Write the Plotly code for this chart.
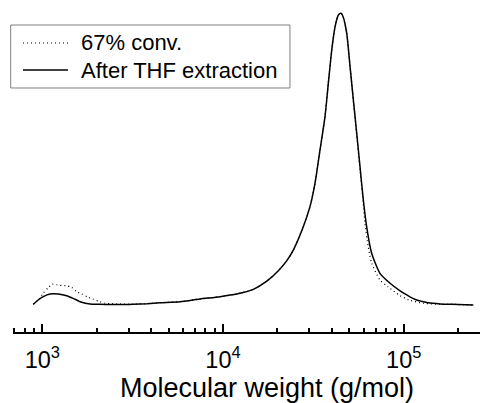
import plotly.graph_objects as go

# Solid curve: After THF extraction (molecular weight g/mol, normalized intensity)
mw_thf = [891, 950, 1013, 1103, 1226, 1365, 1517, 1652, 1836, 2085, 2600, 3178, 3800,
          4478, 5777, 7459, 9620, 11900, 14720, 17470, 20240, 22500, 24490, 27810,
          30290, 32280, 34420, 36680, 38270, 39970, 41700, 43490, 44990, 46200,
          48380, 50470, 52640, 54940, 57300, 59770, 62360, 66470, 73900, 84000,
          95000, 103900, 115000, 128300, 145000, 158800, 200000, 242700]
int_thf = [0.001, 0.0155, 0.027, 0.036, 0.036, 0.030, 0.018, 0.0076, 0.002, 0.001, 0.0, 0.001, 0.003,
           0.006, 0.0096, 0.019, 0.027, 0.036, 0.052, 0.080, 0.116, 0.150, 0.187, 0.267,
           0.336, 0.416, 0.531, 0.645, 0.760, 0.874, 0.954, 0.994, 1.000, 0.988,
           0.931, 0.817, 0.702, 0.588, 0.473, 0.359, 0.267, 0.176, 0.107, 0.073,
           0.048, 0.033, 0.018, 0.0096, 0.004, 0.002, 0.0, -0.002]

# Dotted curve: 67% conversion
mw_67 = [891, 950, 1013, 1075, 1136, 1202, 1253, 1365, 1455, 1549, 1652, 1797, 1915,
         2085, 2250, 2700, 3178, 3800, 4478, 5777, 7459, 9620, 11900, 14720, 17470,
         20240, 22500, 24490, 27810, 30290, 32280, 34420, 36680, 38270, 39970, 41700,
         43490, 44990, 46200, 48380, 50470, 52640, 54940, 57300, 59770, 60970, 63550,
         66470, 73900, 81800, 94660, 107200, 128300, 158800, 200000, 242700]
int_67 = [0.001, 0.016, 0.039, 0.057, 0.070, 0.068, 0.066, 0.064, 0.059, 0.044, 0.036, 0.025, 0.018,
          0.0096, 0.004, 0.002, 0.001, 0.003, 0.006, 0.0096, 0.019, 0.027, 0.036, 0.052, 0.080,
          0.116, 0.150, 0.187, 0.267, 0.336, 0.416, 0.531, 0.645, 0.760, 0.874, 0.954,
          0.994, 1.000, 0.988, 0.931, 0.817, 0.700, 0.582, 0.462, 0.345, 0.280, 0.200,
          0.142, 0.084, 0.061, 0.032, 0.015, 0.004, 0.001, 0.0, -0.002]

series_names = ["67% conv.", "After THF extraction"]
x_title = "Molecular weight (g/mol)"

major_ticks = [1e3, 1e4, 1e5]
major_labels = ["10<sup>3</sup>", "10<sup>4</sup>", "10<sup>5</sup>"]
minor_ticks = [700, 800, 900, 2e3, 3e3, 4e3, 5e3, 6e3, 7e3, 8e3, 9e3,
               2e4, 3e4, 4e4, 5e4, 6e4, 7e4, 8e4, 9e4, 2e5]

FONT = "Liberation Sans, Arial, sans-serif"
DOT = "1px,3px"

fig = go.Figure()
fig.add_trace(go.Scatter(x=mw_67, y=int_67, mode="lines", name=series_names[0],
                         line=dict(color="black", width=1.2, dash=DOT, shape="spline", smoothing=0.6)))
fig.add_trace(go.Scatter(x=mw_thf, y=int_thf, mode="lines", name=series_names[1],
                         line=dict(color="black", width=1.5, shape="spline", smoothing=0.6)))

# Hand-built legend (box, line samples, labels) in paper coordinates
shapes = [
    dict(type="rect", xref="paper", yref="paper", x0=-0.0049, x1=0.5931, y0=0.7462, y1=0.9388,
         line=dict(color="#7f7f7f", width=1), fillcolor="white", layer="above"),
    dict(type="line", xref="paper", yref="paper", x0=0.0214, x1=0.1178, y0=0.8838, y1=0.8838,
         line=dict(color="black", width=1.2, dash=DOT), layer="above"),
    dict(type="line", xref="paper", yref="paper", x0=0.0214, x1=0.1178, y0=0.8012, y1=0.8012,
         line=dict(color="black", width=1.5), layer="above"),
]
annotations = [
    dict(xref="paper", yref="paper", x=0.1413, y=0.8838, text=series_names[0], showarrow=False,
         xanchor="left", yanchor="middle", font=dict(size=22, family=FONT, color="black")),
    dict(xref="paper", yref="paper", x=0.1413, y=0.8012, text=series_names[1], showarrow=False,
         xanchor="left", yanchor="middle", font=dict(size=22, family=FONT, color="black")),
    # x-axis title, centred slightly right of the plot centre as in the original
    dict(xref="paper", yref="paper", x=0.5439, y=-0.1705, text=x_title, showarrow=False,
         xanchor="center", yanchor="middle", font=dict(size=27, family=FONT, color="black")),
]

fig.update_layout(
    width=480, height=403,
    margin=dict(l=13, r=0, t=5, b=71, autoexpand=False),
    paper_bgcolor="white", plot_bgcolor="white",
    font=dict(family=FONT, color="black"),
    showlegend=False,
    shapes=shapes, annotations=annotations,
    xaxis=dict(type="log", range=[2.838, 5.422],
               showgrid=False, zeroline=False,
               showline=True, linecolor="black", linewidth=2,
               ticks="inside", ticklen=8, tickwidth=1.5, tickcolor="black",
               tickmode="array", tickvals=major_ticks, ticktext=major_labels,
               tickfont=dict(size=23.5, family=FONT), ticklabelstandoff=6,
               minor=dict(tickmode="array", tickvals=minor_ticks, ticks="inside",
                          ticklen=4, tickwidth=1.5, tickcolor="black", showgrid=False)),
    yaxis=dict(range=[-0.0944, 1.0285], visible=False),
)

fig.write_html("out.html", config={"displayModeBar": False},
               post_script="document.body.style.margin='0';")
